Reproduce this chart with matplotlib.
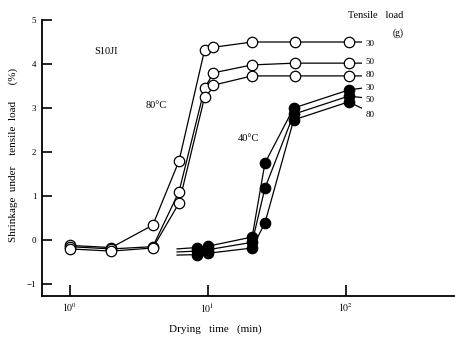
"""Shrinkage under tensile load vs drying time (scanned figure redraw)."""

import matplotlib

matplotlib.use("Agg")

import matplotlib.pyplot as plt
from matplotlib.ticker import FixedLocator, NullLocator

plt.rcParams["font.family"] = ["Liberation Serif", "DejaVu Serif"]
plt.rcParams["mathtext.fontset"] = "stix"

W, H = 455, 337

loads = ["30", "50", "80"]

# 80 degC, open circles
t80 = [1, 2, 4, 6.2, 9.5, 11, 21, 43, 105]
s80 = {
    "30": [-0.12, -0.17, 0.34, 1.8, 4.32, 4.38, 4.5, 4.5, 4.5],
    "50": [-0.15, -0.2, -0.15, 1.1, 3.45, 3.8, 3.98, 4.02, 4.02],
    "80": [-0.2, -0.25, -0.18, 0.84, 3.25, 3.52, 3.73, 3.73, 3.73],
}

# 40 degC, filled circles
t40 = [8.3, 10, 21, 26, 42, 105]
s40 = {
    "30": [-0.17, -0.14, 0.07, 1.75, 3.0, 3.41],
    "50": [-0.25, -0.22, -0.05, 1.18, 2.86, 3.27],
    "80": [-0.33, -0.3, -0.18, 0.39, 2.73, 3.14],
}

# line ends without markers
t40_start = 6.0
s40_start = {"30": -0.2, "50": -0.27, "80": -0.34}
t_end = 130
s80_end = {"30": 4.5, "50": 4.02, "80": 3.73}
s40_end = {"30": 3.45, "50": 3.24, "80": 3.0}

# right-hand load labels (y value)
label80_y = [4.45, 4.05, 3.75]
label40_y = [3.45, 3.18, 2.85]


def fx(px):
    return px / W


def fy(py):
    return 1 - py / H


fig = plt.figure(figsize=(W / 100, H / 100), dpi=100)
ax = fig.add_axes([fx(42), fy(296), 1 - fx(42), fy(20) - fy(296)])

for load in loads:
    ax.plot(t80 + [t_end], s80[load] + [s80_end[load]], color="black", lw=0.9, zorder=2)
    ax.plot(t80, s80[load], ls="none", marker="o", ms=7.5, mfc="white",
            mec="black", mew=0.9, zorder=3)
    ax.plot([t40_start] + t40 + [t_end], [s40_start[load]] + s40[load] + [s40_end[load]],
            color="black", lw=0.9, zorder=2)
    ax.plot(t40, s40[load], ls="none", marker="o", ms=7.5, mfc="black",
            mec="black", mew=0.9, zorder=3)

ax.set_xscale("log")
ax.set_xlim(0.63, 620)
ax.set_ylim(-1.27, 5.0)
ax.xaxis.set_major_locator(FixedLocator([1, 10, 100]))
ax.xaxis.set_minor_locator(NullLocator())
ax.set_xticklabels([r"$10^0$", r"$10^1$", r"$10^2$"])
ax.set_yticks([-1, 0, 1, 2, 3, 4, 5])
ax.set_yticks([0], minor=True)
ax.tick_params(axis="x", which="major", direction="in", length=8, width=1.2,
               labelsize=7, pad=4)
ax.tick_params(axis="y", which="major", direction="in", length=7, width=1.2,
               labelsize=6.5, pad=4)
ax.tick_params(axis="y", which="minor", direction="in", length=15, width=1.0,
               labelleft=False)
for side in ("top", "right"):
    ax.spines[side].set_visible(False)
for side in ("left", "bottom"):
    ax.spines[side].set_linewidth(1.3)

for load, y in zip(loads, label80_y):
    ax.text(140, y, load, fontsize=6.5, ha="left", va="center")
for load, y in zip(loads, label40_y):
    ax.text(140, y, load, fontsize=6.5, ha="left", va="center")

fig.text(fx(13), fy(155), "Shrinkage  under    tensile  load      (%)",
         rotation=90, ha="center", va="center", fontsize=8)
fig.text(fx(215), fy(329), "Drying   time   (min)", ha="center", va="center",
         fontsize=8)
fig.text(fx(376), fy(15), "Tensile   load", ha="center", va="center", fontsize=7.5)
fig.text(fx(398), fy(33), "(g)", ha="center", va="center", fontsize=7)
fig.text(fx(106), fy(51), "S10JI", ha="center", va="center", fontsize=7.5)
fig.text(fx(156), fy(105), "80°C", ha="center", va="center", fontsize=7.5)
fig.text(fx(248), fy(139), "40°C", ha="center", va="center", fontsize=7.5)

fig.savefig("out.png", dpi=100, facecolor="white")
